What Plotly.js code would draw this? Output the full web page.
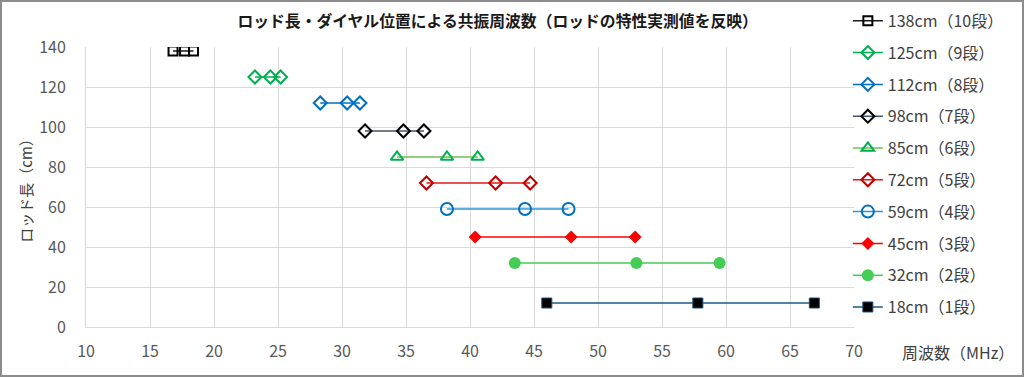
<!DOCTYPE html>
<html><head><meta charset="utf-8">
<script src="https://cdn.plot.ly/plotly-3.0.1.min.js"></script>
<style>
html,body{margin:0;padding:0;background:#fff;}
#wrap{position:relative;width:1024px;height:377px;}
#chart{width:1024px;height:377px;}
#frame{position:absolute;left:0;top:0;width:1024px;height:377px;box-sizing:border-box;border:2px solid #8c8c8c;pointer-events:none;}
</style></head>
<body><div id="wrap"><div id="chart"></div><div id="frame"></div></div>
<script>
const seriesNames = ["138cm（10段）","125cm（9段）","112cm（8段）","98cm（7段）","85cm（6段）","72cm（5段）","59cm（4段）","45cm（3段）","32cm（2段）","18cm（1段）"];
const rodLength = [138, 125, 112, 98, 85, 72, 59, 45, 32, 12];
const freq138 = [16.8, 17.7, 18.4];
const freq125 = [23.2, 24.4, 25.2];
const freq112 = [28.3, 30.4, 31.4];
const freq98  = [31.8, 34.8, 36.4];
const freq85  = [34.3, 38.2, 40.6];
const freq72  = [36.6, 42.0, 44.7];
const freq59  = [38.2, 44.3, 47.7];
const freq45  = [40.4, 47.9, 52.9];
const freq32  = [43.5, 53.0, 59.5];
const freq18  = [46.0, 57.8, 66.9];
const freqs = [freq138, freq125, freq112, freq98, freq85, freq72, freq59, freq45, freq32, freq18];

const styles = [
  {line:'#1a1a1a', marker:{symbol:'square-open', size:9, color:'#000000', line:{width:2}}},
  {line:'#00B050', marker:{symbol:'diamond-open', size:10, color:'#00B050', line:{width:2}}},
  {line:'#0070C0', marker:{symbol:'diamond-open', size:10, color:'#0070C0', line:{width:2}}},
  {line:'#44546A', marker:{symbol:'diamond-open', size:10, color:'#000000', line:{width:2}}},
  {line:'#70C050', marker:{symbol:'triangle-up-open', size:11, color:'#00B050', line:{width:2}}},
  {line:'#E41A1A', marker:{symbol:'diamond-open', size:10, color:'#C00000', line:{width:2}}},
  {line:'#2E95D8', marker:{symbol:'circle-open', size:12, color:'#0070C0', line:{width:2}}},
  {line:'#FF0000', marker:{symbol:'diamond', size:10, color:'#FF0000', line:{width:0}}},
  {line:'#44CC55', marker:{symbol:'circle', size:12, color:'#44CC55', line:{width:0}}},
  {line:'#1F5A85', marker:{symbol:'square', size:10, color:'#000000', line:{width:1, color:'#1F4E79'}}}
];

const traces = seriesNames.map((name, i) => ({
  type:'scatter', mode:'lines+markers', name:name,
  x: freqs[i], y: freqs[i].map(() => rodLength[i]),
  line:{color:styles[i].line, width:1.5},
  marker:styles[i].marker,
  legendgroup:'g'+i
}));

const font = '"Noto Sans CJK JP", "Noto Sans", sans-serif';
const layout = {
  width:1024, height:377,
  margin:{l:86, r:170, t:47, b:50, autoexpand:false},
  paper_bgcolor:'#ffffff', plot_bgcolor:'#ffffff',
  font:{family:font, color:'#595959', size:16},
  title:{text:'<b>ロッド長・ダイヤル位置による共振周波数（ロッドの特性実測値を反映）</b>', x:0.486, xanchor:'center', y:0.942, yanchor:'middle', font:{family:font, size:15.8, color:'#1a1a1a'}},
  xaxis:{range:[10,70], dtick:5, tick0:10, showgrid:true, gridcolor:'#d9d9d9', gridwidth:1, zeroline:false, showline:true, linecolor:'#d9d9d9', ticks:'', ticklabelstandoff:10, tickfont:{size:16, color:'#595959'}},
  yaxis:{range:[0,140], dtick:20, tick0:0, showgrid:true, gridcolor:'#d9d9d9', gridwidth:1, zeroline:false, showline:true, linecolor:'#d9d9d9', ticks:'', ticklabelstandoff:16, tickfont:{size:16, color:'#595959'},
    title:{text:'ロッド長（cm）', font:{family:font, size:15, color:'#404040'}, standoff:2}},
  legend:{x:0.992, xanchor:'left', y:1.154, yanchor:'top', font:{family:font, size:16, color:'#404040'}, tracegroupgap:8, itemwidth:30, bgcolor:'rgba(0,0,0,0)', maxheight:377},
  annotations:[{text:'周波数（MHz）', xref:'paper', yref:'paper', x:1.06, y:-0.09, xanchor:'left', yanchor:'middle', showarrow:false, font:{family:font, size:16, color:'#404040'}}],
  showlegend:true
};
Plotly.newPlot('chart', traces, layout, {displayModeBar:false, staticPlot:true});
</script></body></html>
